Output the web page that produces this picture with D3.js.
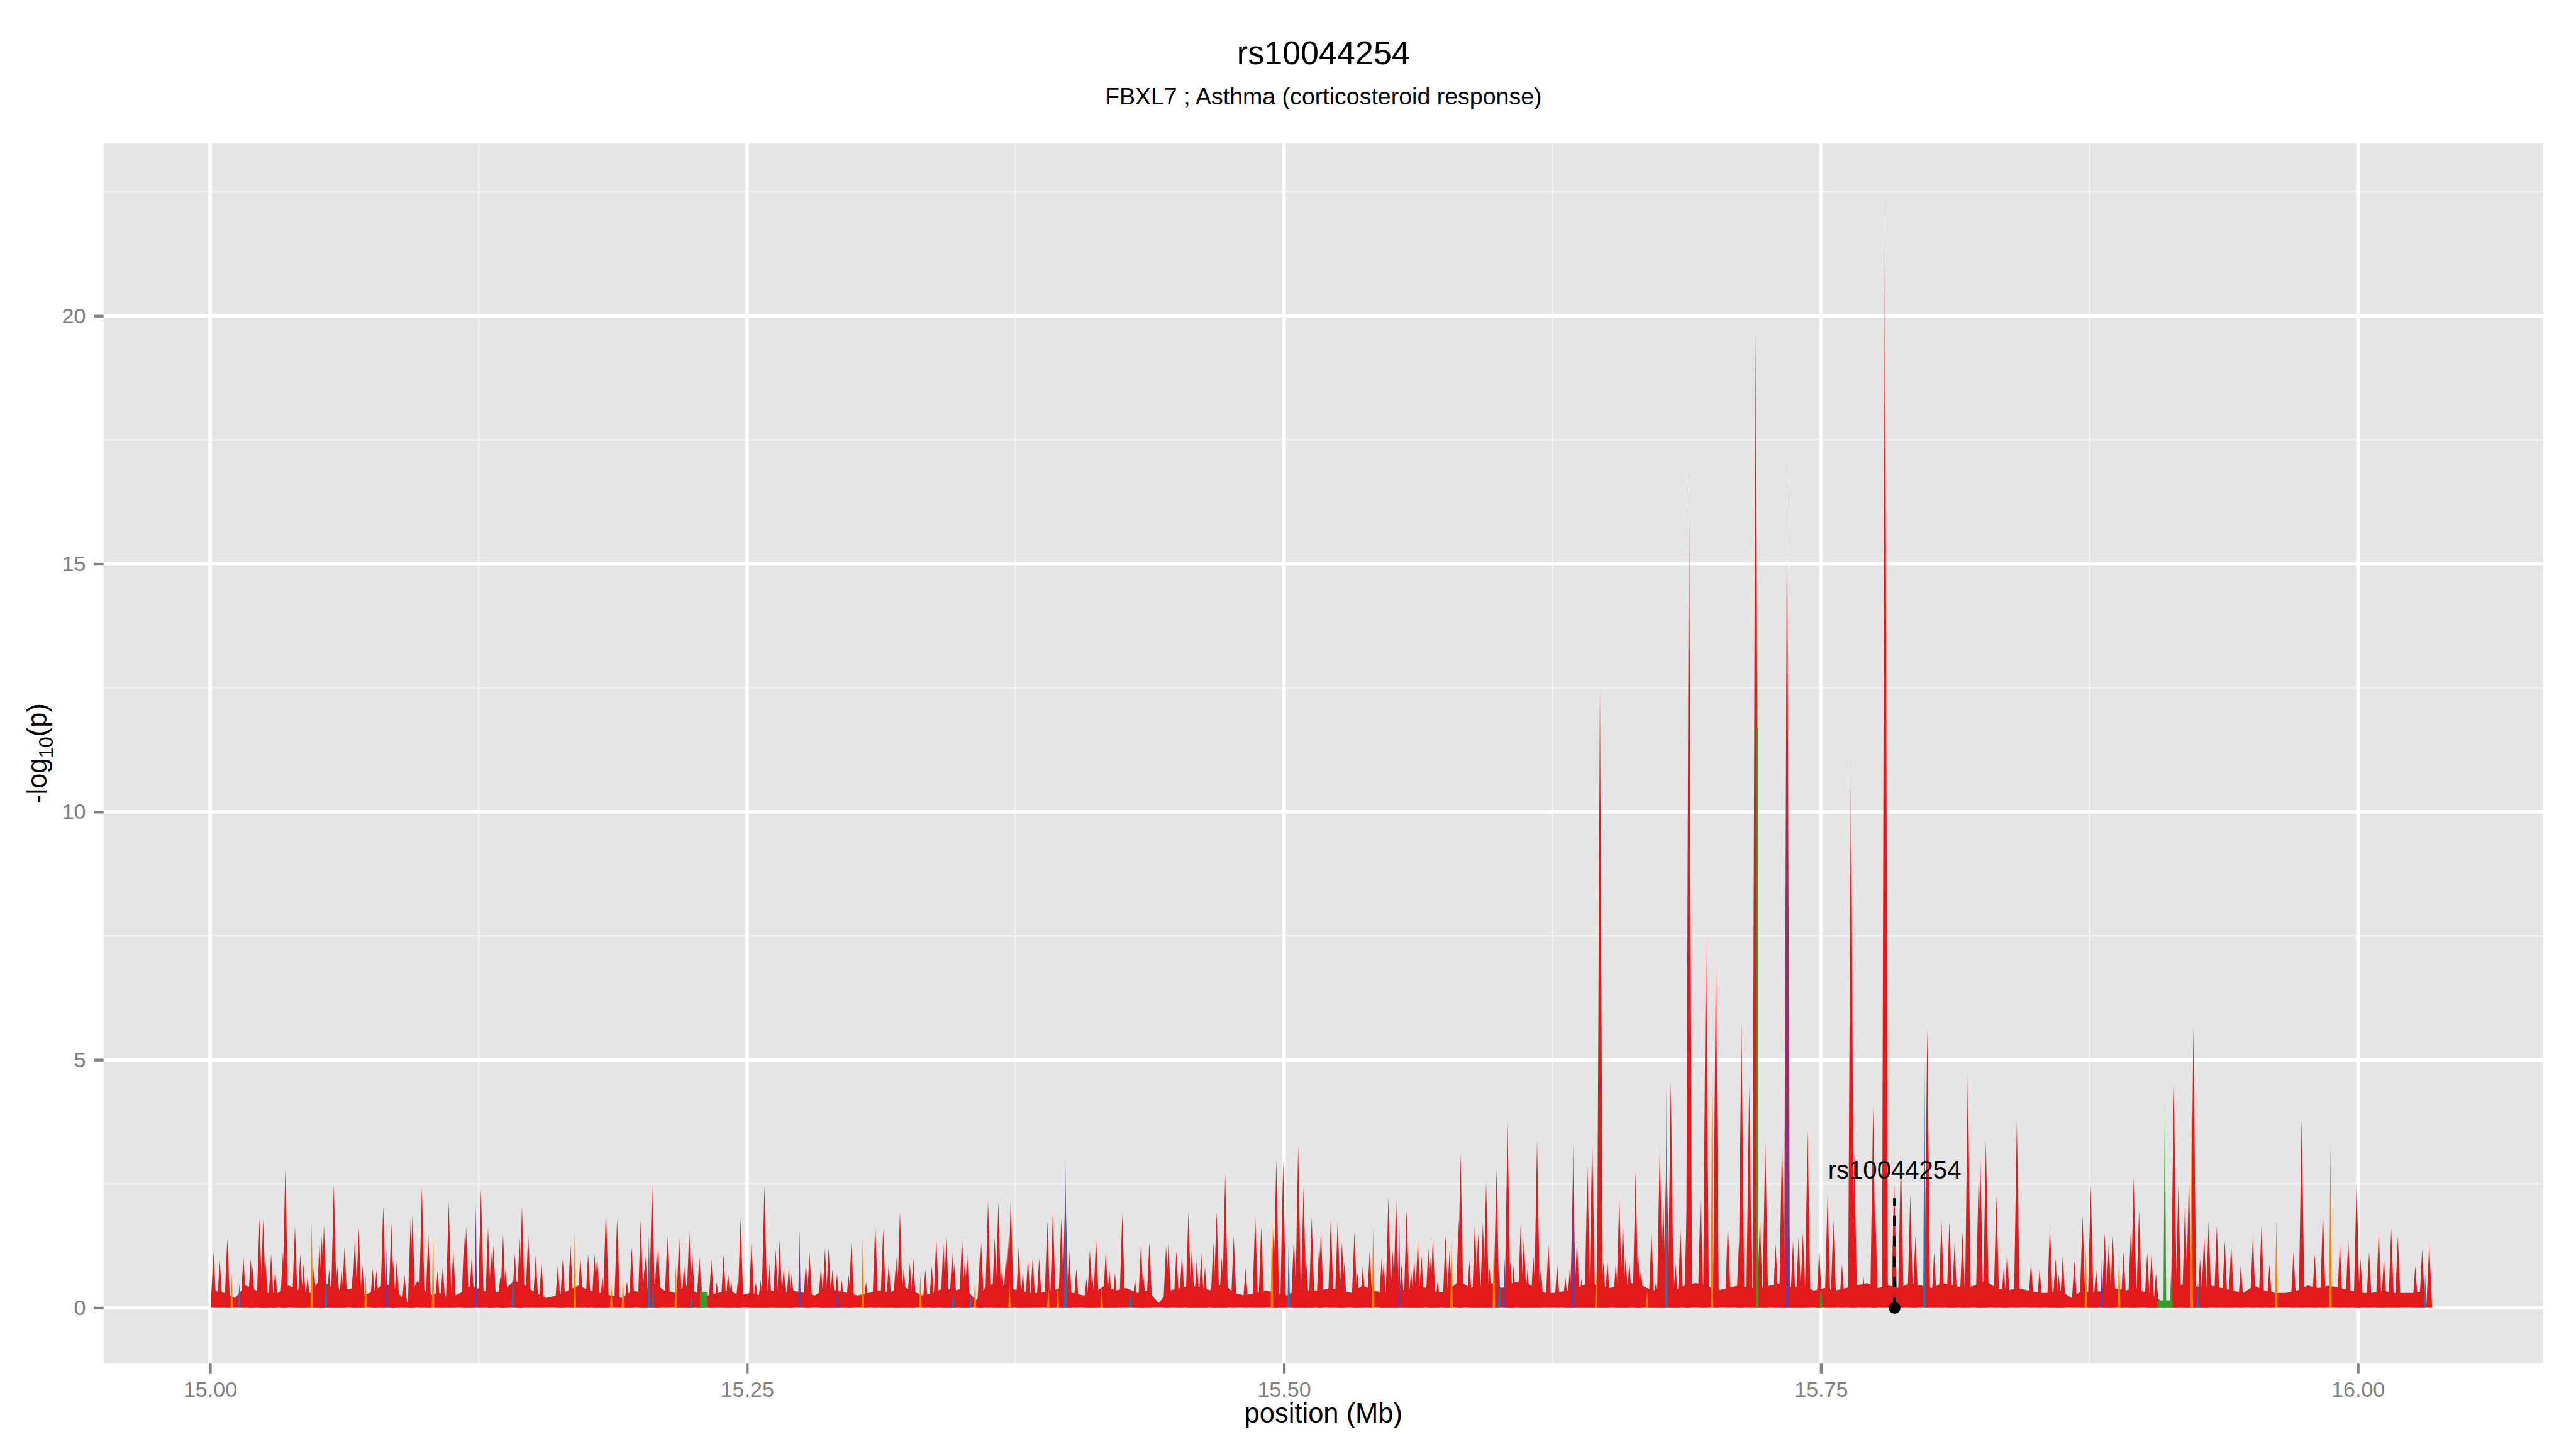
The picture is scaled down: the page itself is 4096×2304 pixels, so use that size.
<!DOCTYPE html>
<html>
<head>
<meta charset="utf-8">
<script src="https://cdn.jsdelivr.net/npm/d3@7"></script>
<style>
  body { margin: 0; background: #fff; }
  svg { display: block; }
  text { font-family: "Liberation Sans", Arial, Helvetica, sans-serif; }
</style>
</head>
<body>
<svg id="chart"></svg>
<script>
// ---- data ----
const titleText = "rs10044254";
const subtitleText = "FBXL7 ; Asthma (corticosteroid response)";
const xLabel = "position (Mb)";

const xTicks = [15.00, 15.25, 15.50, 15.75, 16.00];
const xMinor = [15.125, 15.375, 15.625, 15.875];
const yTicks = [0, 5, 10, 15, 20];
const yMinor = [2.5, 7.5, 12.5, 17.5, 22.5];

// dense low-level red fill, sampled every 0.005 Mb from 15.0016
const floorStart = 15.0016, floorStep = 0.005;
const redFloor = [
  0.35,0.3,0.2,0.45,0.35,0.3,0.3,0.45,0.35,0.3,0.6,0.4,0.35,0.4,0.25,0.35,0.5,0.35,0.1,0.55,0.25,0.3,0.2,0.3,0.45,0.35,0.3,0.35,0.55,0.45,0.3,0.2,0.25,0.35,
  0.45,0.35,0.3,0.25,0.2,0.35,0.3,0.5,0.35,0.3,0.45,0.3,0.25,0.3,0.35,0.25,0.3,0.25,0.35,0.3,0.35,0.3,0.25,0.4,0.35,0.3,0.25,0.3,0.35,0.3,0.45,0.35,0.25,0.3,0.4,
  0.35,0.4,0.15,0.45,0.5,0.4,0.35,0.3,0.3,0.35,0.4,0.3,0.25,0.3,0.45,0.35,0.4,0.3,0.35,0.1,0.35,0.4,0.45,0.4,0.35,0.5,0.3,0.25,0.3,0.35,0.3,0.25,0.4,0.35,0.35,
  0.4,0.35,0.3,0.45,0.35,0.3,0.4,0.35,0.45,0.4,0.3,0.35,0.55,0.4,0.45,0.5,0.4,0.5,0.55,0.4,0.3,0.3,0.35,0.4,0.5,0.45,0.4,0.45,0.5,0.45,0.35,0.4,0.35,0.45,
  0.5,0.45,0.35,0.4,0.45,0.4,0.4,0.45,0.5,0.4,0.45,0.35,0.4,0.35,0.4,0.45,0.5,0.4,0.45,0.4,0.5,0.45,0.4,0.5,0.45,0.4,0.45,0.55,0.4,0.35,0.4,0.35,0.3,0.3,0.35,
  0.2,0.35,0.3,0.35,0.4,0.35,0.4,0.3,0.2,0,0.45,0.5,0.4,0.45,0.4,0.35,0.3,0.45,0.35,0.3,0.3,0.35,0.45,0.4,0.45,0.4,0.35,0.3,0.3,0.35,0.3,0.3,0.3,0.35
];

// [position Mb, -log10 p]
const redSpikes = [
  [15.0016,1.13],[15.0045,0.95],[15.0080,1.40],[15.0155,1.04],[15.0189,0.99],[15.0197,0.85],[15.0230,1.80],[15.0247,1.79],
  [15.0258,0.92],[15.0284,1.09],[15.0303,0.77],[15.0339,1.12],[15.0350,2.80],[15.0395,1.65],[15.0420,1.08],[15.0435,0.88],
  [15.0454,0.64],[15.0483,0.83],[15.0509,1.30],[15.0520,1.45],[15.0530,1.67],[15.0554,0.78],[15.0576,2.49],[15.0592,0.84],
  [15.0612,0.76],[15.0626,1.24],[15.0665,0.72],[15.0674,1.40],[15.0692,1.61],[15.0709,0.86],[15.0757,0.79],[15.0774,0.75],
  [15.0806,2.06],[15.0844,1.70],[15.0852,0.97],[15.0869,0.95],[15.0905,0.67],[15.0934,1.83],[15.0942,1.87],[15.0986,2.43],
  [15.1016,1.48],[15.1059,0.75],[15.1083,0.82],[15.1111,2.14],[15.1132,1.19],[15.1183,1.45],[15.1192,1.65],[15.1218,1.03],
  [15.1261,2.40],[15.1294,1.64],[15.1309,1.13],[15.1319,1.26],[15.1351,0.63],[15.1364,1.49],[15.1376,0.79],[15.1419,1.10],
  [15.1441,1.40],[15.1452,2.05],[15.1481,1.51],[15.1516,1.06],[15.1543,0.90],[15.1619,0.87],[15.1642,0.99],[15.1678,1.27],
  [15.1724,1.04],[15.1760,1.09],[15.1790,1.09],[15.1802,1.08],[15.1827,0.63],[15.1843,2.04],[15.1895,1.80],[15.1941,0.53],
  [15.1963,1.22],[15.2005,1.78],[15.2022,0.79],[15.2028,1.04],[15.2058,2.55],[15.2080,1.17],[15.2086,1.24],[15.2129,1.45],
  [15.2184,1.44],[15.2207,0.89],[15.2231,1.56],[15.2245,1.13],[15.2278,1.04],[15.2334,0.98],[15.2359,0.52],[15.2391,1.08],
  [15.2412,0.71],[15.2426,0.56],[15.2458,0.56],[15.2470,1.81],[15.2521,1.33],[15.2541,0.52],[15.2563,0.56],[15.2581,2.45],
  [15.2603,0.91],[15.2633,1.18],[15.2652,1.37],[15.2671,0.82],[15.2695,0.83],[15.2708,0.68],[15.2774,0.92],[15.2791,1.12],
  [15.2844,0.84],[15.2863,1.20],[15.2880,1.21],[15.2898,0.78],[15.2919,0.68],[15.2941,0.56],[15.2973,0.67],[15.2986,1.33],
  [15.3054,0.52],[15.3097,1.71],[15.3134,1.59],[15.3160,0.91],[15.3191,0.77],[15.3197,1.03],[15.3212,1.95],[15.3230,0.83],
  [15.3258,0.90],[15.3274,1.00],[15.3330,0.77],[15.3360,0.84],[15.3381,1.42],[15.3414,1.30],[15.3428,1.42],
  [15.3455,1.13],[15.3464,0.91],[15.3501,1.46],[15.3514,0.97],[15.3525,1.09],[15.3585,1.12],[15.3590,1.32],[15.3622,2.17],
  [15.3653,1.42],[15.3670,2.14],[15.3687,0.83],[15.3706,1.09],[15.3715,1.48],[15.3728,2.26],[15.3765,1.22],[15.3784,0.72],
  [15.3808,1.00],[15.3830,1.01],[15.3860,1.00],[15.3898,1.75],[15.3924,1.96],[15.3963,1.80],[15.3982,2.50],[15.4000,1.15],
  [15.4033,0.79],[15.4080,0.59],[15.4096,1.17],[15.4107,0.70],[15.4125,1.42],[15.4170,1.15],[15.4187,0.77],[15.4213,0.70],
  [15.4247,1.90],[15.4306,0.59],[15.4334,1.31],[15.4345,0.67],[15.4373,1.33],[15.4451,1.25],[15.4462,1.30],[15.4499,1.15],
  [15.4525,1.10],[15.4555,1.93],[15.4571,1.20],[15.4594,0.99],[15.4615,1.10],[15.4632,0.83],[15.4671,1.32],[15.4686,1.95],
  [15.4710,1.01],[15.4726,2.71],[15.4766,1.45],[15.4821,0.79],[15.4866,1.89],[15.4894,1.64],[15.4952,1.69],[15.4964,3.00],
  [15.4996,2.96],[15.5046,1.42],[15.5066,3.27],[15.5091,2.43],[15.5103,0.99],[15.5129,1.83],[15.5164,1.33],
  [15.5172,1.57],[15.5218,1.83],[15.5250,1.77],[15.5270,1.33],[15.5280,0.92],[15.5328,1.53],[15.5342,0.70],[15.5367,0.86],
  [15.5399,1.15],[15.5455,1.03],[15.5464,0.92],[15.5486,2.23],[15.5506,1.16],[15.5522,2.24],[15.5547,0.88],[15.5571,1.98],
  [15.5592,0.76],[15.5606,0.99],[15.5623,1.36],[15.5640,1.06],[15.5672,1.21],[15.5683,1.01],[15.5693,1.40],[15.5716,0.56],
  [15.5752,1.47],[15.5771,1.17],[15.5813,1.78],[15.5822,3.10],[15.5863,0.95],[15.5889,1.76],[15.5904,1.51],[15.5926,1.72],
  [15.5941,2.54],[15.5957,0.81],[15.5989,2.80],[15.6041,3.76],[15.6054,0.95],[15.6069,0.85],[15.6102,1.70],[15.6117,1.43],
  [15.6134,0.79],[15.6161,1.06],[15.6178,3.38],[15.6196,0.81],[15.6231,1.29],[15.6272,0.88],[15.6310,0.63],[15.6331,0.81],
  [15.6346,2.72],[15.6364,1.37],[15.6385,0.59],[15.6413,2.83],[15.6435,3.47],[15.6471,12.50],[15.6487,0.94],[15.6506,0.93],
  [15.6545,0.92],[15.6561,2.25],[15.6578,1.73],[15.6591,1.03],[15.6608,0.94],[15.6637,2.74],[15.6649,1.10],[15.6662,0.81],
  [15.6711,1.51],[15.6731,0.50],[15.6750,3.34],[15.6766,2.18],[15.6781,3.31],[15.6801,4.56],[15.6823,0.89],[15.6846,1.57],
  [15.6877,2.29],[15.6886,16.96],[15.6940,2.30],[15.6965,7.58],[15.7011,7.07],[15.7067,1.73],[15.7119,1.37],[15.7130,5.77],
  [15.7166,4.49],[15.7195,19.71],[15.7216,1.80],[15.7241,3.35],[15.7289,1.29],[15.7319,3.48],[15.7342,16.80],[15.7370,1.35],
  [15.7396,1.44],[15.7416,1.51],[15.7438,3.58],[15.7492,1.17],[15.7531,2.28],[15.7558,1.78],[15.7598,0.88],[15.7640,11.23],
  [15.7655,3.15],[15.7698,0.63],[15.7743,4.07],[15.7752,2.14],[15.7798,22.34],[15.7841,2.60],[15.7872,3.12],[15.7916,2.28],
  [15.7940,1.46],[15.7995,5.64],[15.8027,1.12],[15.8061,1.77],[15.8098,1.75],[15.8122,1.28],[15.8159,1.53],[15.8184,4.73],
  [15.8234,2.59],[15.8242,3.08],[15.8268,3.37],[15.8317,2.25],[15.8351,0.81],[15.8367,1.13],[15.8412,3.75],[15.8478,0.94],
  [15.8518,0.79],[15.8566,1.69],[15.8592,1.00],[15.8607,0.67],[15.8626,1.06],[15.8680,0.96],[15.8718,1.87],[15.8756,2.48],
  [15.8781,0.79],[15.8821,1.52],[15.8840,1.31],[15.8859,1.46],[15.8909,1.13],[15.8943,1.61],[15.8956,2.63],[15.8981,1.97],
  [15.9019,1.11],[15.9039,1.09],[15.9060,0.69],[15.9143,4.51],[15.9164,2.45],[15.9195,2.13],[15.9213,2.60],[15.9234,5.66],
  [15.9265,0.99],[15.9284,1.49],[15.9305,1.75],[15.9343,1.66],[15.9380,1.36],[15.9410,1.30],[15.9455,0.88],[15.9511,1.45],
  [15.9551,1.66],[15.9588,0.88],[15.9700,1.13],[15.9738,3.78],[15.9799,1.08],[15.9837,1.98],[15.9916,1.30],[15.9955,1.38],
  [15.9994,2.59],[16.0012,0.99],[16.0052,1.13],[16.0097,1.55],[16.0121,1.00],[16.0155,1.60],[16.0186,1.45],[16.0267,0.85],
  [16.0299,1.18],[16.0332,1.29]
];

const orangeSpikes = [
  [15.0100,0.70],[15.0473,1.77],[15.0724,0.70],[15.1038,1.53],[15.1698,1.60],[15.1868,0.49],[15.1922,0.63],[15.2168,0.88],
  [15.3039,1.47],[15.3307,0.68],[15.3561,0.53],[15.3722,0.50],[15.3903,0.45],[15.3947,0.50],[15.4151,0.45],[15.4944,1.87],
  [15.5415,1.64],[15.5780,1.37],[15.5977,1.35],[15.6454,0.82],[15.6691,0.36],[15.6993,4.54],[15.8733,1.21],[15.8888,1.16],
  [15.9226,4.00],[15.9620,1.80],[15.9872,3.37]
];
const blueSpikes = [
  [15.0136,0.50],[15.0539,0.88],[15.1410,0.86],[15.2043,1.48],[15.2061,0.50],[15.2240,0.30],[15.3460,0.35],[15.3540,0.30],
  [15.3982,3.03],[15.4285,0.40],[15.5022,1.42],[15.6002,0.92],[15.6781,4.48],[15.7982,4.97],[15.9254,0.50],[16.0313,0.70]
];
const purpleSpikes = [
  [15.0822,1.20],[15.1237,2.11],[15.2744,1.59],[15.2920,0.50],[15.5536,2.05],[15.6027,1.01],[15.6346,3.39],[15.7342,17.10],
  [15.8808,1.04]
];
const greenSpikes = [[15.2287,0.63],[15.2300,0.45],[15.7203,15.75],[15.7500,0.50],[15.9101,4.18],[15.9130,0.67]];
// [start Mb, end Mb, height]
const greenBlocks = [[15.2281,15.2314,0.32],[15.7198,15.7209,11.7],[15.9068,15.9137,0.15]];

const snp = { name: "rs10044254", pos: 15.7843, lineTop: 2.21, labelAt: 2.6 };

// ---- drawing ----
const W = 4800, H = 2700;
const margin = { top: 267, right: 61, bottom: 159, left: 193 };
const red = "#E31A1C", blue = "#1F78B4", green = "#33A02C", purple = "#6A3D9A", orange = "#FF7F00";

const svg = d3.select("#chart")
  .attr("width", 4096)
  .attr("height", 2304)
  .attr("viewBox", `0 0 ${W} ${H}`);

svg.append("rect").attr("width", W).attr("height", H).attr("fill", "#fff");

const x = d3.scaleLinear().domain([14.9504, 16.0863]).range([margin.left, W - margin.right]);
const y = d3.scaleLinear().domain([-1.126, 23.48]).range([H - margin.bottom, margin.top]);

// panel
svg.append("rect")
  .attr("x", margin.left).attr("y", margin.top)
  .attr("width", W - margin.left - margin.right)
  .attr("height", H - margin.top - margin.bottom)
  .attr("fill", "#E5E5E5");

const grid = svg.append("g");
grid.selectAll(".ymin").data(yMinor).join("line")
  .attr("x1", margin.left).attr("x2", W - margin.right)
  .attr("y1", d => y(d)).attr("y2", d => y(d))
  .attr("stroke", "#F2F2F2").attr("stroke-width", 3.2);
grid.selectAll(".xmin").data(xMinor).join("line")
  .attr("y1", margin.top).attr("y2", H - margin.bottom)
  .attr("x1", d => x(d)).attr("x2", d => x(d))
  .attr("stroke", "#F2F2F2").attr("stroke-width", 3.2);
grid.selectAll(".ymaj").data(yTicks).join("line")
  .attr("x1", margin.left).attr("x2", W - margin.right)
  .attr("y1", d => y(d)).attr("y2", d => y(d))
  .attr("stroke", "#fff").attr("stroke-width", 6.5);
grid.selectAll(".xmaj").data(xTicks).join("line")
  .attr("y1", margin.top).attr("y2", H - margin.bottom)
  .attr("x1", d => x(d)).attr("x2", d => x(d))
  .attr("stroke", "#fff").attr("stroke-width", 6.5);

// red floor
const floorArea = d3.area()
  .x((d, i) => x(floorStart + i * floorStep))
  .y0(y(0))
  .y1(d => y(d));
svg.append("path").datum(redFloor).attr("d", floorArea).attr("fill", red);

function spikePath(d, w) {
  const px = x(d[0]);
  return `M${px - w},${y(0)}L${px},${y(d[1])}L${px + w},${y(0)}Z`;
}

function drawSpikes(data, colour, w) {
  svg.append("g").selectAll("path").data(data).join("path")
    .attr("d", d => spikePath(d, w))
    .attr("fill", colour);
}

drawSpikes(redSpikes, red, 5.5);
svg.append("g").selectAll("rect").data(greenBlocks).join("rect")
  .attr("x", d => x(d[0]))
  .attr("width", d => x(d[1]) - x(d[0]))
  .attr("y", d => y(d[2]))
  .attr("height", d => y(0) - y(d[2]))
  .attr("fill", green);
drawSpikes(orangeSpikes, orange, 2.4);
drawSpikes(blueSpikes, blue, 2.4);
drawSpikes(purpleSpikes, purple, 2.4);
drawSpikes(greenSpikes, green, 2.6);

// axes
const grey = "#7F7F7F";
const xAxis = svg.append("g")
  .attr("transform", `translate(0,${H - margin.bottom})`)
  .call(d3.axisBottom(x).tickValues(xTicks).tickFormat(d3.format(".2f")).tickSize(18).tickPadding(15));
const yAxis = svg.append("g")
  .attr("transform", `translate(${margin.left},0)`)
  .call(d3.axisLeft(y).tickValues(yTicks).tickFormat(d3.format("d")).tickSize(18).tickPadding(15));
[xAxis, yAxis].forEach(a => {
  a.select(".domain").remove();
  a.selectAll(".tick line").attr("stroke", grey).attr("stroke-width", 5);
  a.selectAll(".tick text").attr("fill", grey)
    .style("font-family", '"Liberation Sans", Arial, sans-serif')
    .style("font-size", "40px");
});

// highlighted SNP
svg.append("line")
  .attr("x1", x(snp.pos)).attr("x2", x(snp.pos))
  .attr("y1", y(0)).attr("y2", y(snp.lineTop))
  .attr("stroke", "#000").attr("stroke-width", 5.7)
  .attr("stroke-dasharray", "20 18");
svg.append("circle")
  .attr("cx", x(snp.pos)).attr("cy", y(0)).attr("r", 11)
  .attr("fill", "#000");
svg.append("text")
  .attr("x", x(snp.pos)).attr("y", y(snp.labelAt))
  .attr("text-anchor", "middle")
  .style("font-size", "47px")
  .text(snp.name);

// titles
const cx = (margin.left + W - margin.right) / 2;
svg.append("text").attr("x", cx).attr("y", 120)
  .attr("text-anchor", "middle").style("font-size", "61px").text(titleText);
svg.append("text").attr("x", cx).attr("y", 194)
  .attr("text-anchor", "middle").style("font-size", "44px").text(subtitleText);
svg.append("text").attr("x", cx).attr("y", 2651)
  .attr("text-anchor", "middle").style("font-size", "51px").text(xLabel);

const yl = svg.append("text")
  .attr("transform", `translate(87,${(margin.top + H - margin.bottom) / 2}) rotate(-90)`)
  .attr("text-anchor", "middle")
  .style("font-size", "51px");
yl.append("tspan").text("-log");
yl.append("tspan").attr("dy", 12).style("font-size", "36px").text("10");
yl.append("tspan").attr("dy", -12).text("(p)");
</script>
</body>
</html>
